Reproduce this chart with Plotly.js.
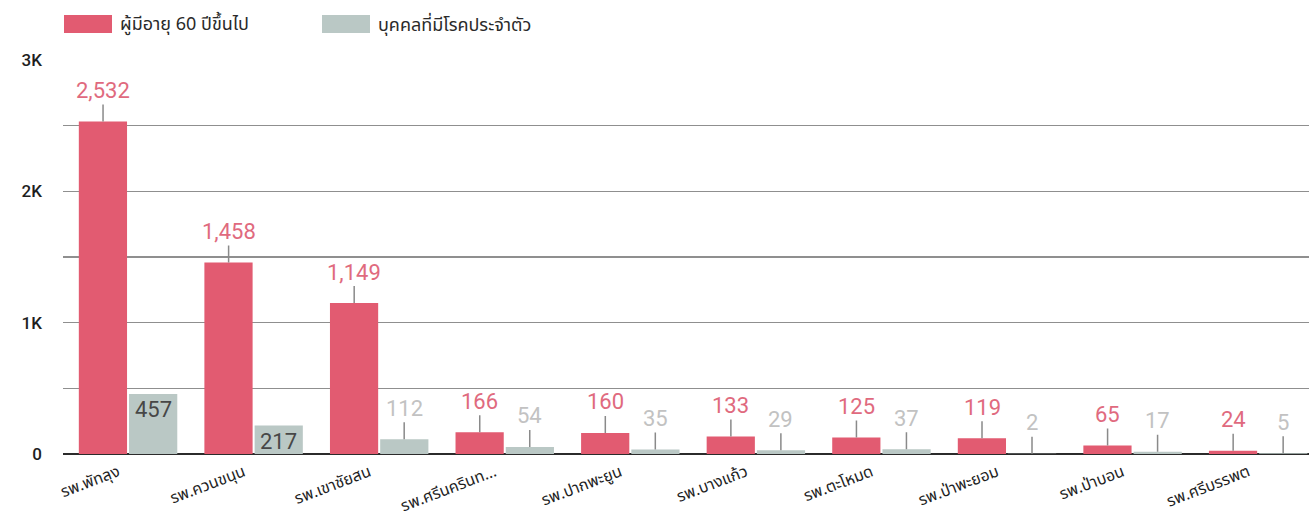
<!DOCTYPE html>
<html>
<head>
<meta charset="utf-8">
<script src="https://cdn.plot.ly/plotly-3.0.1.min.js"></script>
<style>html,body{margin:0;padding:0;background:#fff;}#chart{width:1309px;height:524px;}</style>
</head>
<body>
<div id="chart"></div>
<script>
const categories = ["รพ.พัทลุง","รพ.ควนขนุน","รพ.เขาชัยสน","รพ.ศรีนครินท...","รพ.ปากพะยูน","รพ.บางแก้ว","รพ.ตะโหมด","รพ.ป่าพะยอม","รพ.ป่าบอน","รพ.ศรีบรรพต"];
const elderly = [2532,1458,1149,166,160,133,125,119,65,24];
const chronic = [457,217,112,54,35,29,37,2,17,5];
const seriesNames = ["ผู้มีอายุ 60 ปีขึ้นไป","บุคคลที่มีโรคประจำตัว"];
const yTickVals = [0,500,1000,1500,2000,2500,3000];
const yTickText = ["0","","1K","","2K","","3K"];

const RED = "#e25b71", GRAY = "#bac8c5";
const RED_TXT = "#e06a7e", GRAY_TXT = "#c2c2c2", IN_TXT = "#474747";
const numFont = "Roboto, 'DejaVu Sans', sans-serif";
const thaiFont = "'Noto Sans', 'Noto Sans Thai', 'DejaVu Sans', sans-serif";
const fmt = v => v.toLocaleString("en-US");

const traces = [
  {type:"bar", name:seriesNames[0], x:categories, y:elderly, marker:{color:RED}, hoverinfo:"none", showlegend:false},
  {type:"bar", name:seriesNames[1], x:categories, y:chronic, marker:{color:GRAY}, hoverinfo:"none", showlegend:false}
];

const annotations = [];
function addLabels(vals, xshift, color, allowInside) {
  vals.forEach((v, i) => {
    if (allowInside && v > 150) {
      annotations.push({x:categories[i], y:v, xref:"x", yref:"y", xshift:xshift, yshift:-1,
        text:fmt(v), showarrow:false, yanchor:"top", xanchor:"center",
        font:{family:numFont, size:22, color:IN_TXT}});
    } else {
      annotations.push({x:categories[i], y:v, xref:"x", yref:"y", xshift:xshift,
        text:fmt(v), showarrow:true, arrowhead:0, arrowwidth:1.5, arrowcolor:"#8a8a8a",
        ax:0, ay:-31, standoff:0, font:{family:numFont, size:22, color:color}});
    }
  });
}
addLabels(elderly, -25, RED_TXT, false);
addLabels(chronic, 25, GRAY_TXT, true);

// legend
const legendItems = [
  {x0:64, x1:112, color:RED, tx:118, label:seriesNames[0]},
  {x0:322, x1:370, color:GRAY, tx:376, label:seriesNames[1]}
];
const W = 1309, H = 524;
const shapes = [];
legendItems.forEach(it => {
  shapes.push({type:"rect", xref:"paper", yref:"paper",
    x0:(it.x0-63)/(W-63), x1:(it.x1-63)/(W-63),
    y0:(H-70-33)/(H-70-60) , y1:(H-70-15)/(H-70-60),
    fillcolor:it.color, line:{width:0}});
  annotations.push({xref:"paper", yref:"paper", x:(it.tx-63)/(W-63), y:(H-70-24)/(H-70-60),
    xanchor:"left", yanchor:"middle", showarrow:false, text:it.label,
    font:{family:thaiFont, size:18, color:"#2a2a2a"}});
});

const layout = {
  width:W, height:H,
  margin:{l:63, r:0, t:60, b:70},
  paper_bgcolor:"#fff", plot_bgcolor:"#fff",
  barmode:"group", bargap:0.2, bargroupgap:0.04,
  showlegend:false,
  xaxis:{range:[-0.518, 9.405], tickangle:-21, showgrid:false, zeroline:false, showline:false,
    ticks:"", ticklabelshift:-10, ticklabelstandoff:5,
    tickfont:{family:thaiFont, size:16, color:"#1e1e1e"}, fixedrange:true},
  yaxis:{range:[0,3000], tickvals:yTickVals, ticktext:yTickText, showgrid:true,
    gridcolor:"#8f8f8f", gridwidth:1.6, zeroline:true, zerolinecolor:"#2b2b2b", zerolinewidth:2.2,
    ticks:"", ticklabelstandoff:20, tickfont:{family:numFont, size:17, color:"#1e1e1e", weight:500}, fixedrange:true},
  annotations:annotations,
  shapes:shapes
};
Plotly.newPlot("chart", traces, layout, {displayModeBar:false, staticPlot:true});
</script>
</body>
</html>
